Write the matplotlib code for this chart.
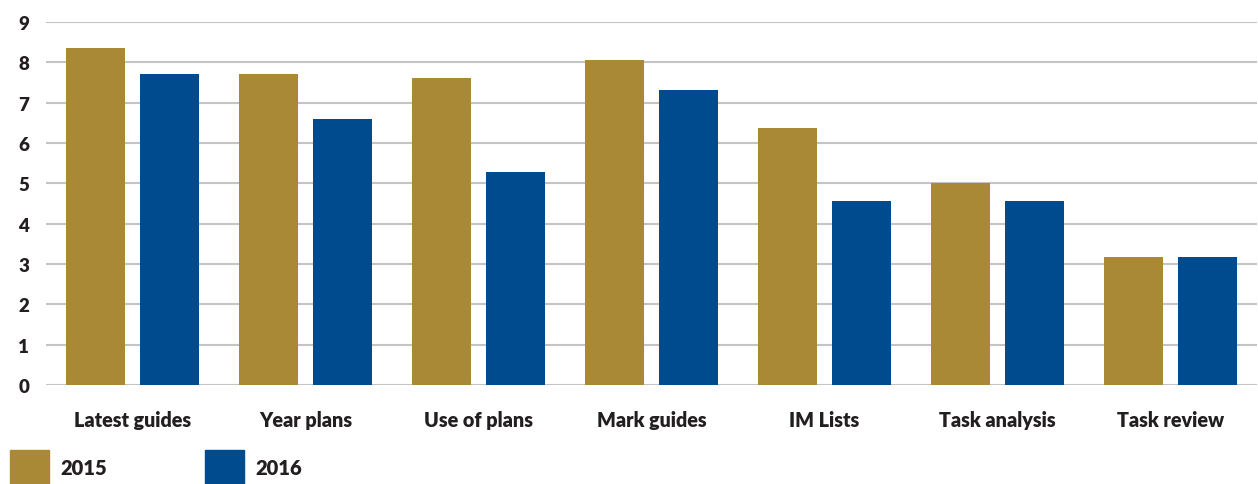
import matplotlib
matplotlib.use("Agg")
import matplotlib.pyplot as plt
from matplotlib.patches import Rectangle
import numpy as np

categories = ["Latest guides", "Year plans", "Use of plans", "Mark guides",
              "IM Lists", "Task analysis", "Task review"]
values_2015 = [8.36, 7.71, 7.61, 8.06, 6.37, 5.01, 3.17]
values_2016 = [7.71, 6.60, 5.28, 7.31, 4.56, 4.56, 3.17]
series_labels = ["2015", "2016"]
colors = ["#A98936", "#004A8E"]
yticks = list(range(0, 10))

plt.rcParams['font.family'] = ['Lato', 'DejaVu Sans']
W, H = 1258, 485
fig = plt.figure(figsize=(W / 100, H / 100), dpi=100)
ax = fig.add_axes([46 / W, 1 - 386 / H, 1211 / W, (386 - 23) / H])

x = np.arange(len(categories))
bw = 0.341
off = 0.214
ax.bar(x - off, values_2015, width=bw, color=colors[0], zorder=3)
ax.bar(x + off, values_2016, width=bw, color=colors[1], zorder=3)

ax.set_xlim(-0.5, len(categories) - 0.5)
ax.set_ylim(0, 9)
ax.set_yticks(yticks)
ax.set_yticklabels([str(t) for t in yticks], fontsize=13.5, fontweight='heavy', color='#231f20')
ax.set_xticks(x)
ax.set_xticklabels(categories, fontsize=14.2, fontweight='heavy', color='#231f20')
ax.tick_params(axis='both', length=0)
ax.tick_params(axis='x', pad=18)
ax.tick_params(axis='y', pad=12)
ax.yaxis.grid(True, color='#c4c4c4', linewidth=1.5, zorder=0)
for s in ax.spines.values():
    s.set_visible(False)

# Legend
leg_x = [10, 205]
for i, lbl in enumerate(series_labels):
    fig.add_artist(Rectangle((leg_x[i] / W, 0), 39 / W, (485 - 451) / H,
                             transform=fig.transFigure, color=colors[i]))
    fig.text((leg_x[i] + 50) / W, 1 - 469 / H, lbl, fontsize=14.5, fontweight='heavy',
             color='#231f20', va='center', ha='left')

fig.savefig("out.png", dpi=100)
